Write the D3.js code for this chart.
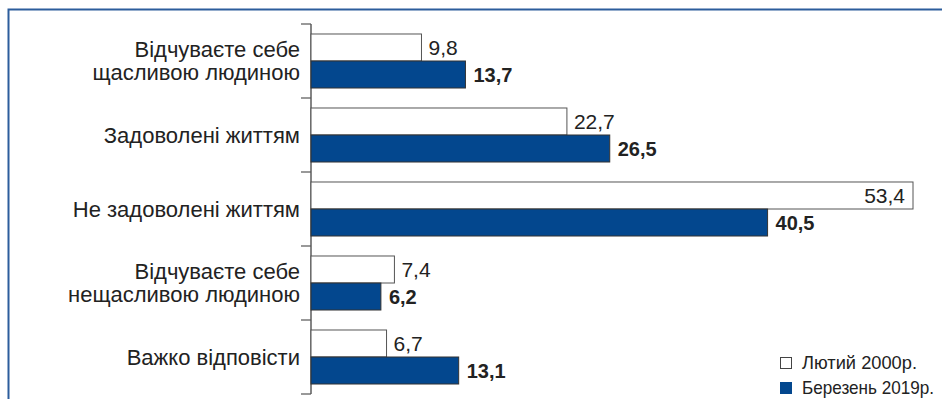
<!DOCTYPE html>
<html>
<head>
<meta charset="utf-8">
<script src="https://cdn.jsdelivr.net/npm/d3@7"></script>
<style>
  body { margin: 0; background: #fff; }
  svg { display: block; }
</style>
</head>
<body>
<div id="chart"></div>
<script>
// data
const categories = [
  ["Відчуваєте себе", "щасливою людиною"],
  ["Задоволені життям"],
  ["Не задоволені життям"],
  ["Відчуваєте себе", "нещасливою людиною"],
  ["Важко відповісти"]
];
const series2000 = [9.8, 22.7, 53.4, 7.4, 6.7];
const series2019 = [13.7, 26.5, 40.5, 6.2, 13.1];
const legendLabels = ["Лютий 2000р.", "Березень 2019р."];

const W = 942, H = 399;
const blue = "#03478e";
const font = "Liberation Sans, Arial, sans-serif";
const fmt = v => v.toFixed(1).replace(".", ",");

const svg = d3.select("#chart").append("svg")
  .attr("width", W)
  .attr("height", H);

// frame (top + left)
svg.append("path")
  .attr("d", `M8.5,${H} L8.5,9.5 L${W},9.5`)
  .attr("fill", "none")
  .attr("stroke", "#2c5d9c")
  .attr("stroke-width", 2);

const x = d3.scaleLinear()
  .domain([0, 53.4])
  .range([311, 913]);

const y = d3.scaleBand()
  .domain(d3.range(categories.length))
  .range([24, 394]);

// two bars per category, 27px each
const sub = d3.scaleBand()
  .domain([0, 1])
  .range([0, y.bandwidth()])
  .paddingOuter(0.37)
  .paddingInner(0);

// y axis with ticks at band edges
const axisX = 311;
svg.append("line")
  .attr("x1", axisX).attr("x2", axisX)
  .attr("y1", y.range()[0]).attr("y2", y.range()[1])
  .attr("stroke", "#333").attr("stroke-width", 1.2);

const edges = d3.range(categories.length + 1).map(i => y.range()[0] + i * y.step());
svg.selectAll(".tick")
  .data(edges)
  .join("line")
  .attr("class", "tick")
  .attr("x1", axisX - 10).attr("x2", axisX)
  .attr("y1", d => d).attr("y2", d => d)
  .attr("stroke", "#555").attr("stroke-width", 1.2);

const g = svg.selectAll(".cat")
  .data(categories)
  .join("g")
  .attr("class", "cat")
  .attr("transform", (d, i) => `translate(0,${y(i)})`);

// category labels
g.append("text")
  .attr("text-anchor", "end")
  .attr("font-family", font)
  .attr("font-size", 22)
  .attr("fill", "#222")
  .each(function (d) {
    const t = d3.select(this);
    const lh = 22.5;
    const y0 = y.bandwidth() / 2 - (d.length - 1) * lh / 2 + 7.5;
    d.forEach((line, k) => {
      t.append("tspan").attr("x", 300).attr("y", y0 + k * lh).text(line);
    });
  });

// bars 2000
g.append("rect")
  .attr("x", x(0))
  .attr("y", sub(0))
  .attr("width", (d, i) => x(series2000[i]) - x(0))
  .attr("height", sub.bandwidth())
  .attr("fill", "#fff")
  .attr("stroke", "#555")
  .attr("stroke-width", 1);

// bars 2019
g.append("rect")
  .attr("x", x(0))
  .attr("y", sub(1))
  .attr("width", (d, i) => x(series2019[i]) - x(0))
  .attr("height", sub.bandwidth())
  .attr("fill", blue)
  .attr("stroke", "#333")
  .attr("stroke-width", 1);

// value labels
g.append("text")
  .attr("x", (d, i) => series2000[i] > 50 ? x(series2000[i]) - 8 : x(series2000[i]) + 7)
  .attr("y", sub(0) + sub.bandwidth() / 2 + 7.5)
  .attr("text-anchor", (d, i) => series2000[i] > 50 ? "end" : "start")
  .attr("font-family", font)
  .attr("font-size", 21)
  .attr("fill", "#222")
  .text((d, i) => fmt(series2000[i]));

g.append("text")
  .attr("x", (d, i) => x(series2019[i]) + 8)
  .attr("y", sub(1) + sub.bandwidth() / 2 + 7.5)
  .attr("font-family", font)
  .attr("font-size", 20)
  .attr("font-weight", "bold")
  .attr("fill", "#222")
  .text((d, i) => fmt(series2019[i]));

// legend (condensed type)
const legendWidths = [115, 132];
const legend = svg.append("g").attr("transform", "translate(780,357)");
const lg = legend.selectAll("g")
  .data(legendLabels)
  .join("g")
  .attr("transform", (d, i) => `translate(0,${i * 25})`);

lg.append("rect")
  .attr("x", 0.5).attr("y", 0.5)
  .attr("width", 11).attr("height", 11)
  .attr("fill", (d, i) => i === 0 ? "#fff" : blue)
  .attr("stroke", (d, i) => i === 0 ? "#444" : blue);

lg.append("text")
  .attr("x", 22)
  .attr("y", 12)
  .attr("font-family", font)
  .attr("font-size", 18.5)
  .attr("fill", "#222")
  .attr("textLength", (d, i) => legendWidths[i])
  .attr("lengthAdjust", "spacingAndGlyphs")
  .text(d => d);
</script>
</body>
</html>
